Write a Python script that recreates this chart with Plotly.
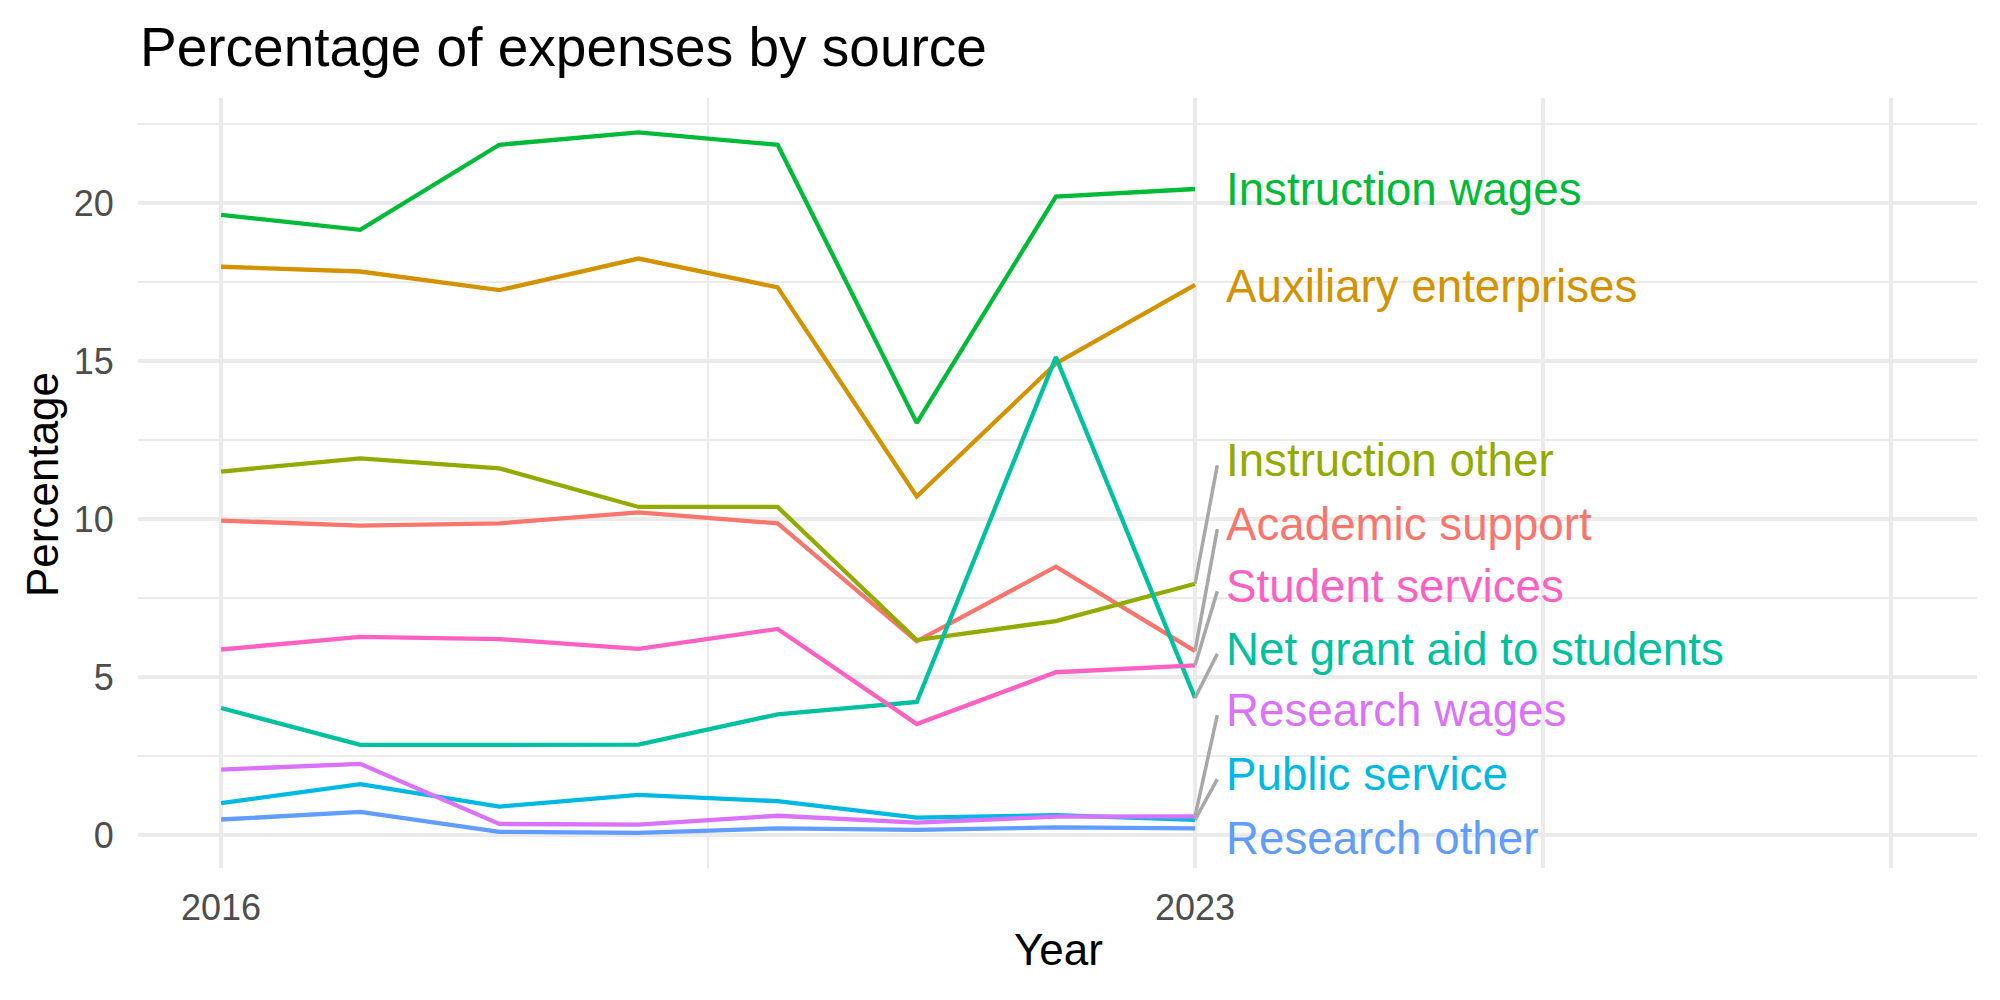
import plotly.graph_objects as go

years = [2016, 2017, 2018, 2019, 2020, 2021, 2022, 2023]

academic_support = [9.95, 9.79, 9.86, 10.21, 9.86, 6.13, 8.49, 5.82]
auxiliary_enterprises = [17.98, 17.83, 17.24, 18.24, 17.33, 10.71, 14.92, 17.41]
instruction_other = [11.50, 11.92, 11.60, 10.38, 10.38, 6.17, 6.77, 7.95]
instruction_wages = [19.62, 19.15, 21.84, 22.23, 21.84, 13.04, 20.20, 20.44]
net_grant_aid = [4.02, 2.85, 2.85, 2.86, 3.82, 4.21, 15.12, 4.34]
public_service = [1.01, 1.61, 0.90, 1.27, 1.07, 0.55, 0.63, 0.48]
research_other = [0.49, 0.73, 0.10, 0.07, 0.21, 0.16, 0.24, 0.21]
research_wages = [2.07, 2.25, 0.35, 0.33, 0.61, 0.39, 0.58, 0.59]
student_services = [5.87, 6.27, 6.20, 5.89, 6.52, 3.51, 5.15, 5.37]

series_names = [
    "Academic support", "Auxiliary enterprises", "Instruction other",
    "Instruction wages", "Net grant aid to students", "Public service",
    "Research other", "Research wages", "Student services",
]
series_values = [
    academic_support, auxiliary_enterprises, instruction_other,
    instruction_wages, net_grant_aid, public_service,
    research_other, research_wages, student_services,
]
colors = ["#F8766D", "#D39200", "#93AA00", "#00BA38", "#00C19F",
          "#00B9E3", "#619CFF", "#DB72FB", "#FF61C3"]

# repelled label positions (y) and whether a connector is drawn
label_y = [9.83, 17.34, 11.85, 20.41, 5.88, 1.92, -0.10, 3.94, 7.86]
has_segment = [True, False, True, False, True, True, False, True, True]

label_x = 2023.205
seg_end_x = 2023.16

fig = go.Figure()

for name, vals, col in zip(series_names, series_values, colors):
    fig.add_trace(go.Scatter(
        x=years, y=vals, mode="lines", name=name,
        line=dict(color=col, width=4.3), showlegend=False,
        hoverinfo="skip",
    ))

for name, vals, col, ly, seg in zip(series_names, series_values, colors, label_y, has_segment):
    if seg:
        fig.add_trace(go.Scatter(
            x=[years[-1], seg_end_x], y=[vals[-1], ly - 0.15],
            mode="lines", line=dict(color="#A8A8A8", width=3.5),
            showlegend=False, hoverinfo="skip",
        ))
    fig.add_annotation(
        x=label_x, y=ly, xref="x", yref="y", text=name, showarrow=False,
        xanchor="left", yanchor="middle",
        font=dict(family="Liberation Sans, Arial, sans-serif", size=45.7, color=col),
    )

grid = "#EBEBEB"

plot_h = 1000 - 98 - 132
plot_w = 2000 - 138 - 23

fig.update_layout(
    width=2000, height=1000,
    margin=dict(l=138, r=23, t=98, b=132),
    paper_bgcolor="white", plot_bgcolor="white",
    font=dict(family="Liberation Sans, Arial, sans-serif"),
    title=dict(
        text="Percentage of expenses by source",
        x=0.07, xref="container", xanchor="left",
        y=0.953, yref="container", yanchor="middle",
        font=dict(size=55, color="black"),
    ),
    xaxis=dict(
        range=[2015.403, 2028.62],
        tickmode="array",
        tickvals=[2016, 2023, 2025.5, 2028],
        ticktext=["2016", "2023", "", ""],
        showgrid=True, gridcolor=grid, gridwidth=3.8,
        minor=dict(tickmode="array", tickvals=[2019.5], showgrid=True,
                   gridcolor=grid, gridwidth=2.0),
        zeroline=False, showline=False,
        ticks="outside", ticklen=8, tickcolor="rgba(0,0,0,0)",
        tickfont=dict(size=36, color="#4D4D4D"),
    ),
    yaxis=dict(
        range=[-1.044, 23.32],
        tickmode="array",
        tickvals=[0, 5, 10, 15, 20],
        ticktext=["0", "5", "10", "15", "20"],
        showgrid=True, gridcolor=grid, gridwidth=3.8,
        minor=dict(tickmode="array", tickvals=[2.5, 7.5, 12.5, 17.5, 22.5],
                   showgrid=True, gridcolor=grid, gridwidth=2.0),
        zeroline=False, showline=False,
        ticks="outside", ticklen=16, tickcolor="rgba(0,0,0,0)",
        tickfont=dict(size=36, color="#4D4D4D"),
    ),
)

fig.add_annotation(
    text="Year", xref="paper", yref="paper",
    x=(1058 - 138) / plot_w, xanchor="center",
    y=-(950 - 868) / plot_h, yanchor="middle",
    showarrow=False, font=dict(size=44, color="black"),
)
fig.add_annotation(
    text="Percentage", x=-(138 - 42) / plot_w, xref="paper",
    y=(868 - 485) / plot_h, yref="paper", textangle=-90,
    showarrow=False, xanchor="center", yanchor="middle",
    font=dict(size=44, color="black"),
)

fig.write_html("out.html")
